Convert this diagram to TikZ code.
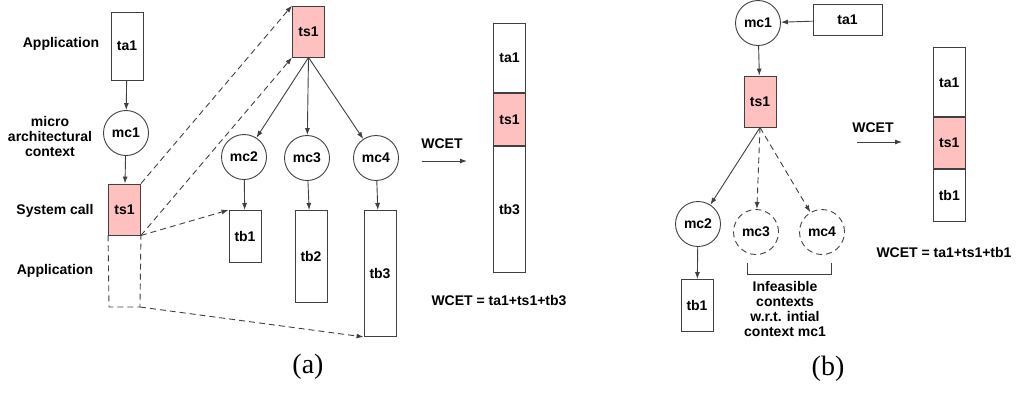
\documentclass[tikz,border=0pt]{standalone}
\usepackage{fontspec}
\setmainfont{Liberation Sans}
\newfontfamily\capfont{Liberation Serif}
\usetikzlibrary{arrows.meta, positioning}
\definecolor{syspink}{RGB}{255,192,192}

\begin{document}
\begin{tikzpicture}[
    x=1pt, y=-1pt,
    line width=0.9pt,
    every node/.style={font=\fontsize{14}{15}\selectfont\bfseries},
    task/.style={rectangle, draw=black!75, fill=white, inner sep=0pt, minimum width=32pt},
    syscall/.style={task, fill=syspink},
    ctx/.style={circle, draw=black!75, inner sep=0pt, minimum size=45pt},
    infeasible/.style={ctx, dash pattern=on 6pt off 4pt},
    arrow/.style={-{Latex[length=7pt, width=5pt]}, draw=black!75},
    dasharrow/.style={arrow, dash pattern=on 6pt off 4pt},
    caption/.style={font=\fontsize{28}{30}\selectfont\capfont\mdseries}
]
    \useasboundingbox (0,0) rectangle (1016,392);

    % (a)
    \node (app1) at (61,44) {Application};
    \node[align=center] (microctx) at (50,136) {micro\\architectural\\context};
    \node (syscall) at (55,211) {System call};
    \node (app2) at (55,271) {Application};

    \node[task, minimum height=68pt] (ta1a) at (127,46) {ta1};
    \node[ctx] (mc1a) at (126,133) {mc1};
    \node[syscall, minimum height=51pt] (ts1a) at (124.5,209.5) {ts1};
    \coordinate (appsw) at (109,307);
    \coordinate (appse) at (140,307);

    \node[syscall, minimum height=51pt] (ts1t) at (308.5,31.5) {ts1};
    \node[ctx] (mc2a) at (244,157) {mc2};
    \node[ctx] (mc3a) at (307,158) {mc3};
    \node[ctx] (mc4a) at (376,158) {mc4};
    \node[task, minimum height=52pt, anchor=north] (tb1a) at (245,210) {tb1};
    \node[task, minimum height=92pt, anchor=north] (tb2a) at (311,210) {tb2};
    \node[task, minimum height=126pt, anchor=north] (tb3a) at (380,210) {tb3};

    \draw[arrow] (ta1a) -- (mc1a);
    \draw[arrow] (mc1a) -- (ts1a);
    \draw[arrow] (ts1t.south) -- (mc2a);
    \draw[arrow] (ts1t.south) -- (mc3a);
    \draw[arrow] (ts1t.south) -- (mc4a);
    \draw[arrow] (mc2a) -- (tb1a);
    \draw[arrow] (mc3a) -- (tb2a);
    \draw[arrow] (mc4a) -- (tb3a);

    \draw[draw=black!75, dash pattern=on 6pt off 4pt] (ts1a.south west) -- (appsw) -- (appse) -- (ts1a.south east);
    \draw[dasharrow] (ts1a.north east) -- (ts1t.north west);
    \draw[dasharrow] (ts1a.south east) -- (ts1t.south west);
    \draw[dasharrow] (ts1a.south east) -- (tb1a.north west);
    \draw[dasharrow] (appse) -- (tb3a.south west);

    \node (wcetA) at (442,144) {WCET};
    \coordinate (wa_from) at (422,161);
    \coordinate (wa_to) at (467,161);
    \draw[arrow] (wa_from) -- (wa_to);

    \node[task, minimum height=69pt, anchor=north] (wa_ta1) at (509.5,23) {ta1};
    \node[syscall, minimum height=52pt, below=0pt of wa_ta1] (wa_ts1) {ts1};
    \node[task, minimum height=126pt, below=0pt of wa_ts1] (wa_tb3) {tb3};
    \node (sumA) at (499,300.5) {WCET = ta1+ts1+tb3};

    \node[caption] (capA) at (308,367) {(a)};

    % (b)
    \node[ctx] (mc1b) at (758,23) {mc1};
    \node[task, minimum width=69pt, minimum height=31pt] (ta1b) at (847.5,20) {ta1};
    \node[syscall, minimum height=51pt] (ts1b) at (760,101.5) {ts1};
    \node[ctx] (mc2b) at (698,224) {mc2};
    \node[infeasible] (mc3b) at (756,232) {mc3};
    \node[infeasible] (mc4b) at (822,232) {mc4};
    \node[task, minimum height=52pt] (tb1b) at (697,305.5) {tb1};

    \draw[arrow] (ta1b) -- (mc1b);
    \draw[arrow] (mc1b) -- (ts1b);
    \draw[arrow] (ts1b.south) -- (mc2b);
    \draw[dasharrow] (ts1b.south) -- (mc3b);
    \draw[dasharrow] (ts1b.south) -- (mc4b);
    \draw[arrow] (mc2b) -- (tb1b);

    \draw[draw=black!75] (747,263) -- (747,274) -- (831,274) -- (831,263);
    \node[align=center, font=\fontsize{14}{15.3}\selectfont\bfseries] (infeas) at (785,309) {Infeasible\\contexts\\w.r.t. intial\\context mc1};

    \node (wcetB) at (873,128) {WCET};
    \coordinate (wb_from) at (857,142);
    \coordinate (wb_to) at (902,142);
    \draw[arrow] (wb_from) -- (wb_to);

    \node[task, minimum height=69pt, anchor=north] (wb_ta1) at (949.3,47.3) {ta1};
    \node[syscall, minimum height=51pt, below=0pt of wb_ta1] (wb_ts1) {ts1};
    \node[task, minimum height=52pt, below=0pt of wb_ts1] (wb_tb1) {tb1};
    \node (sumB) at (944,252) {WCET = ta1+ts1+tb1};

    \node[caption] (capB) at (828,369) {(b)};
\end{tikzpicture}
\end{document}
